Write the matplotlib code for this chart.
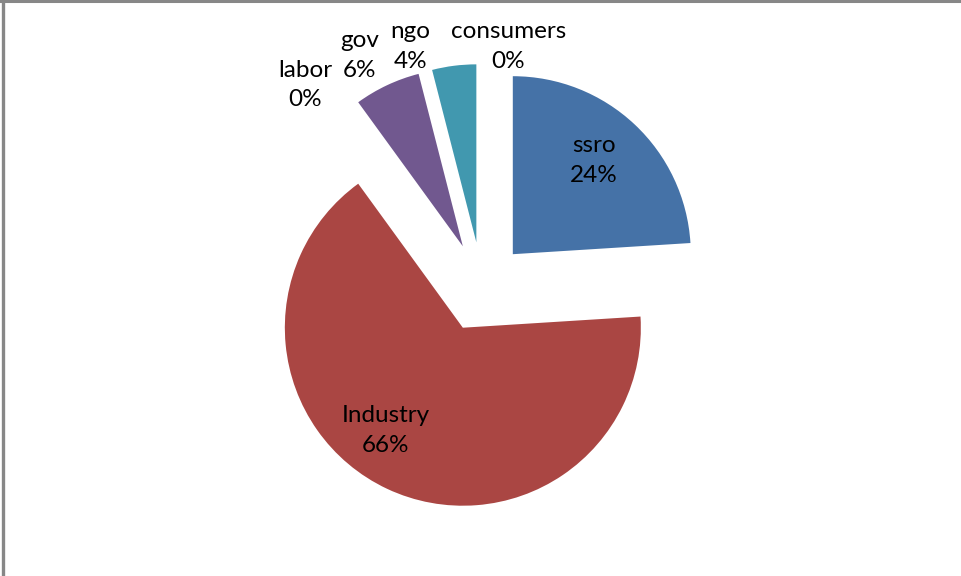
import numpy as np
import matplotlib
matplotlib.use("Agg")
import matplotlib.pyplot as plt
from matplotlib.lines import Line2D

# Share of participants by stakeholder group (percent)
groups = ["ssro", "Industry", "labor", "gov", "ngo", "consumers"]
shares = [24, 66, 0, 6, 4, 0]
colors = ["#4572A7", "#AA4643", "#89A54E", "#71588F", "#4198AF", "#DB843D"]

# Label placement (polar, relative to pie centre): radius factor and angle in degrees
label_r = [0.95, 0.97, 1.51, 1.47, 1.41, 1.36]
label_ang = [48.5, -123.9, 131.2, 117.8, 106.6, 83.8]

W, H = 962, 576
fig = plt.figure(figsize=(W / 100, H / 100), dpi=100)
ax = fig.add_axes([0, 0, 1, 1])

cx, cy, R = 482, 289, 178
ax.pie(shares, colors=colors, startangle=90, counterclock=False,
       radius=R, center=(cx, cy), explode=[45] * len(shares),
       wedgeprops=dict(linewidth=0), frame=False)
ax.set_xlim(0, W)
ax.set_ylim(0, H)
ax.set_aspect("equal")
ax.axis("off")

for g, s, rf, a in zip(groups, shares, label_r, label_ang):
    t = np.deg2rad(a)
    ax.text(cx + rf * R * np.cos(t), cy + rf * R * np.sin(t), f"{g}\n{s}%",
            ha="center", va="center", fontsize=17.5, family="Lato",
            color="black", linespacing=1.5)

# chart area frame (top and left edges)
fig.add_artist(Line2D([0, 1], [1 - 1 / H, 1 - 1 / H], transform=fig.transFigure,
                      color="#878787", linewidth=2.2))
fig.add_artist(Line2D([3.2 / W, 3.2 / W], [0, 1], transform=fig.transFigure,
                      color="#878787", linewidth=2.4))

fig.savefig("out.png", dpi=100, facecolor="white")
